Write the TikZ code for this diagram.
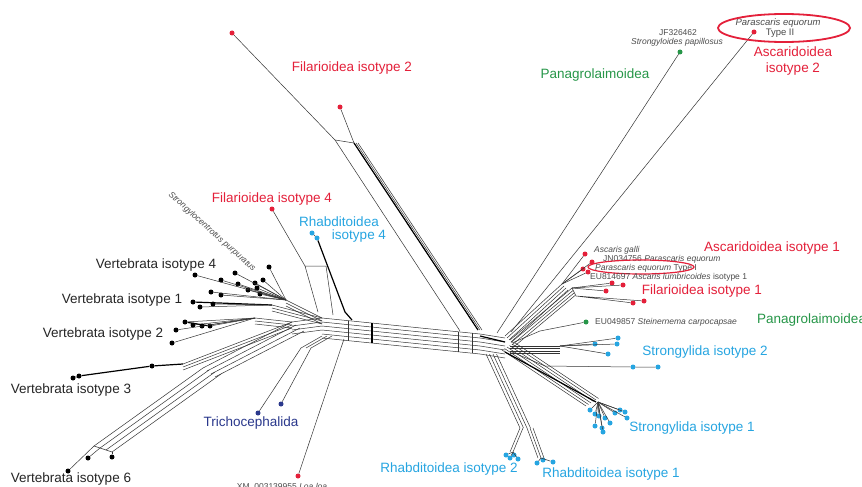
\documentclass[tikz,border=0pt]{standalone}
\usepackage{fontspec}
\setmainfont{Liberation Sans}
\usetikzlibrary{calc}

\definecolor{isored}{RGB}{228,32,58}
\definecolor{isogreen}{RGB}{38,150,72}
\definecolor{isoblue}{RGB}{38,165,225}
\definecolor{isonavy}{RGB}{42,56,140}

\tikzset{
  tip/.style={circle, fill=#1, inner sep=0pt, minimum size=5pt},
  grp/.style={text=#1, font=\fontsize{13.5}{16}\selectfont, inner sep=0pt},
  acc/.style={text=black!70, font=\fontsize{8.5}{9}\selectfont, inner sep=0pt},
  ln/.style={black!80, line width=0.5pt},
  thk/.style={black, line width=1.2pt},
}
% #3+1 parallel strands from #1 to #2, each shifted by #4
\newcommand{\strands}[4]{%
  \foreach \k in {0,...,#3} \draw[ln] ($(#1)+\k*(#4)$) -- ($(#2)+\k*(#4)$);}

\begin{document}
\begin{tikzpicture}[x=1pt,y=-1pt]
\useasboundingbox (0,0) rectangle (862,487);
\fill[white] (0,0) rectangle (862,487);

% junctions
\coordinate (lh) at (322,318);
\coordinate (rh) at (480,334);
\coordinate (lw) at (292,322);
\coordinate (v4) at (286,300);
\coordinate (v1) at (272,305);
\coordinate (v2) at (255,318);
\coordinate (v3) at (183,364);
\coordinate (v6) at (94,446);
\coordinate (v6t) at (203,368);
\coordinate (tj) at (301,348);
\coordinate (j1) at (335,140);
\coordinate (j2) at (354,143);
\coordinate (aj) at (562,284);
\coordinate (fj) at (572,288);
\coordinate (sj) at (560,346);
\coordinate (s1) at (502,350);
\coordinate (rb) at (486,354);
\coordinate (rs) at (520,428);

% tips, left
\foreach \x/\y [count=\i] in {195/275,221/280,235/273,238/284,255/283,263/280,269/267,248/290,257/288,211/292,221/295,260/294}
  \node[tip=black] (vfour\i) at (\x,\y) {};
\foreach \x/\y [count=\i] in {193/302,200/307,213/304}
  \node[tip=black] (vone\i) at (\x,\y) {};
\foreach \x/\y [count=\i] in {172/343,176/330,185/322,193/325,202/326,210/326}
  \node[tip=black] (vtwo\i) at (\x,\y) {};
\foreach \x/\y [count=\i] in {73/378,79/376,152/366}
  \node[tip=black] (vthree\i) at (\x,\y) {};
\foreach \x/\y [count=\i] in {68/471,88/458,112/457}
  \node[tip=black] (vsix\i) at (\x,\y) {};
\node[tip=isonavy] (tri1) at (258,413) {};
\node[tip=isonavy] (tri2) at (281,404) {};
\node[tip=isored] (loa) at (298,476) {};
\node[tip=isoblue] (rfour1) at (312,233) {};
\node[tip=isoblue] (rfour2) at (317,238) {};
\node[tip=isored] (ffour) at (272,209) {};
\node[tip=isored] (ftwo1) at (232,33) {};
\node[tip=isored] (ftwo2) at (340,107) {};

% tips, right
\node[tip=isogreen] (gpap) at (680,52) {};
\node[tip=isored] (rpe2) at (754,32) {};
\foreach \x/\y [count=\i] in {585/254,592/262,583/269,588/272}
  \node[tip=isored] (asc\i) at (\x,\y) {};
\foreach \x/\y [count=\i] in {606/291,612/283,623/285,633/303,644/301}
  \node[tip=isored] (fone\i) at (\x,\y) {};
\node[tip=isogreen] (gste) at (586,322) {};
\foreach \x/\y [count=\i] in {595/344,617/344,618/338,608/354,633/367,658/367}
  \node[tip=isoblue] (stwo\i) at (\x,\y) {};
\foreach \x/\y [count=\i] in {590/410,595/414,599/416,605/418,595/426,602/428,610/423,603/432,615/413,620/410,625/412,627/418}
  \node[tip=isoblue] (sone\i) at (\x,\y) {};
\foreach \x/\y [count=\i] in {506/455,510/458,514/455,518/459}
  \node[tip=isoblue] (rtwo\i) at (\x,\y) {};
\foreach \x/\y [count=\i] in {537/463,543/460,553/462}
  \node[tip=isoblue] (rone\i) at (\x,\y) {};

% central band
\strands{lh}{rh}{5}{0,4}
\foreach \x/\y in {348/320.6,372/323.1,458/331.8,472/333.2}
  \draw[ln] (\x,\y) -- ++(0,20);
\draw[thk] (372,323) -- ++(0,20);
\strands{rh}{505,338}{5}{0,4}
\draw[thk] (480,336) -- (505,342);

% left wing
\foreach \i in {1,...,12} \draw[ln] (vfour\i) -- (v4);
\strands{v4}{lh}{2}{0,3}
\draw[thk] (vone1) -- (v1);
\draw[ln] (vone2) -- (v1) (vone3) -- (v1);
\strands{v1}{lh}{2}{0,3}
\foreach \i in {1,...,6} \draw[ln] (vtwo\i) -- (v2);
\draw[thk] (vtwo3) -- (vtwo6);
\strands{v2}{lw}{2}{0,3}
\strands{lw}{lh}{3}{0,4}
\draw[thk] (vthree1) -- (vthree2) -- (vthree3) -- (v3);
\strands{v3}{lw}{2}{0,3}
\draw[ln] (vsix1) -- (v6);
\draw[ln] (vsix2) -- ($(v6)+(6,2)$);
\draw[ln] (vsix3) -- ($(v6)+(18,6)$);
\draw[ln] (v6) -- ++(18,6);
\strands{v6}{v6t}{3}{6,2}
\strands{v6t}{lw}{3}{4,3}
\draw[ln] (tri1) -- (tj);
\draw[ln] (tri2) -- ($(tj)+(10,0)$);
\strands{tj}{322,336}{2}{5,0}
\draw[ln] (loa) -- (344,339);
\draw[thk] (rfour2) -- (345,312) -- (352,320);
\draw[ln] (rfour1) -- (rfour2);
\draw[ln] (ffour) -- (305,266) -- (318,312) (305,266) -- (326,266) -- (333,315);

% long branches to the top
\draw[ln] (ftwo1) -- (j1) -- (j2);
\draw[ln] (ftwo2) -- (j2);
\draw[ln] (j1) -- (460,331);
\strands{j2}{478,330}{2}{2,0}
\draw[thk] (j2) -- (478,330);
\draw[ln] (gpap) -- (497,333);
\draw[ln] (rpe2) -- (511,332);

% right wing
\strands{505,336}{aj}{3}{2,2}
\foreach \i in {1,...,4} \draw[ln] (asc\i) -- (aj);
\strands{510,340}{fj}{3}{1,2.5}
\foreach \i in {1,2,3} \draw[ln] (fone\i) -- (fj);
\draw[ln] (fone4) -- ($(fj)+(4,8)$) (fone5) -- ($(fj)+(4,8)$) (fj) -- ++(4,8);
\draw[ln] (512,343) -- (540,331) -- (gste);
\strands{510,346}{sj}{3}{0,2.5}
\foreach \i in {1,...,4} \draw[ln] (stwo\i) -- (sj);
\draw[ln] (512,352) -- (545,366) -- (stwo5) -- (stwo6);
\strands{s1}{586,406}{5}{2.5,-1.5}
\draw[thk] (505,352) -- (596,402);
\foreach \i in {1,...,12} \draw[ln] (sone\i) -- (598,402);
\strands{rb}{rs}{3}{3.5,0}
\strands{rs}{510,452}{1}{3,0}
\strands{527,428}{538,458}{2}{3,0}
\foreach \i in {1,...,4} \draw[ln] (rtwo\i) -- (513,452);
\foreach \i in {1,2,3} \draw[ln] (rone\i) -- (541,458);

% group labels
\node[grp=isored] (lfil2) at (352,68) {Filarioidea isotype 2};
\node[grp=isogreen] (lpan1) at (595,75) {Panagrolaimoidea};
\node[grp=isored, align=center] (lasc2) at (793,61) {Ascaridoidea\\isotype 2};
\node[grp=isored] (lfil4) at (272,199) {Filarioidea isotype 4};
\node[grp=isoblue] (lrh4a) at (339,222) {Rhabditoidea};
\node[grp=isoblue] (lrh4b) at (359,236) {isotype 4};
\node[grp=black!85] (lv4) at (156,265) {Vertebrata isotype 4};
\node[grp=black!85] (lv1) at (122,300) {Vertebrata isotype 1};
\node[grp=black!85] (lv2) at (103,334) {Vertebrata isotype 2};
\node[grp=black!85] (lv3) at (71,390) {Vertebrata isotype 3};
\node[grp=black!85] (lv6) at (71,479) {Vertebrata isotype 6};
\node[grp=isonavy] (ltri) at (251,423) {Trichocephalida};
\node[grp=isored] (lasc1) at (772,248) {Ascaridoidea isotype 1};
\node[grp=isored] (lfil1) at (702,291) {Filarioidea isotype 1};
\node[grp=isogreen, anchor=west] (lpan2) at (757,320) {Panagrolaimoidea};
\node[grp=isoblue] (lstr2) at (705,352) {Strongylida isotype 2};
\node[grp=isoblue] (lstr1) at (692,428) {Strongylida isotype 1};
\node[grp=isoblue] (lrh2) at (449,469) {Rhabditoidea isotype 2};
\node[grp=isoblue] (lrh1) at (611,474) {Rhabditoidea isotype 1};

% accession labels
\node[acc] (tjf) at (678,33) {JF326462};
\node[acc] (tspap) at (677,42) {\itshape Strongyloides papillosus};
\node[acc, font=\fontsize{9.5}{10}\selectfont] (tpe2a) at (778,23) {\itshape Parascaris equorum};
\node[acc, font=\fontsize{9.5}{10}\selectfont] (tpe2b) at (780,33) {Type II};
\draw[isored, line width=1.8pt] (784,28) ellipse (66 and 14);
\node[acc, anchor=west] (tag) at (594,250) {\itshape Ascaris galli};
\node[acc, anchor=west] (tjn) at (603,259) {JN034756 \itshape Parascaris equorum};
\node[acc, anchor=west] (tpe1) at (595,268) {\itshape Parascaris equorum \upshape Type I};
\draw[isored, line width=1.2pt] (641,267) ellipse (53 and 7);
\node[acc, anchor=west] (teu8) at (590,277) {EU814697 \itshape Ascaris lumbricoides \upshape isotype 1};
\node[acc, anchor=west] (teu0) at (595,322) {EU049857 \itshape Steinernema carpocapsae};
\node[acc] (tloa) at (282,487) {XM\_003139955 \itshape Loa loa};
\node[acc, rotate=-42] (tstr) at (212,232) {\itshape Strongylocentrotus purpuratus};
\end{tikzpicture}
\end{document}
